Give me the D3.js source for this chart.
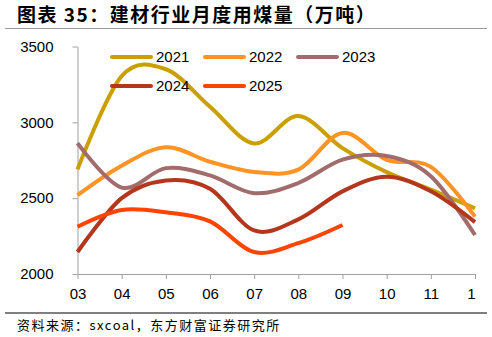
<!DOCTYPE html>
<html>
<head>
<meta charset="utf-8">
<script src="https://cdn.jsdelivr.net/npm/d3@7"></script>
<style>
  body { margin: 0; background: #fff; }
  svg { display: block; }
  .tick text { font-family: "Liberation Sans", Arial, sans-serif; font-size: 15px; fill: #000; }
  .axis path, .axis line { stroke: #a0a0a0; }
</style>
</head>
<body>
<svg id="chart" width="492" height="337"></svg>
<script>
// months on the x axis
const months = ['03', '04', '05', '06', '07', '08', '09', '10', '11', '12']
const yTicks = [2000, 2500, 3000, 3500]

// monthly coal use, 10k tonnes
const y2021 = [2690, 3305, 3350, 3103, 2861, 3041, 2830, 2672, 2556, 2433]
const y2022 = [2520, 2714, 2836, 2740, 2673, 2688, 2930, 2753, 2706, 2378]
const y2023 = [2863, 2570, 2698, 2650, 2533, 2600, 2754, 2778, 2645, 2257]
const y2024 = [2145, 2500, 2617, 2562, 2287, 2360, 2545, 2642, 2545, 2342]
const y2025 = [2312, 2422, 2407, 2347, 2145, 2203, 2323]

const seriesNames = ['2021', '2022', '2023', '2024', '2025']
const seriesValues = [y2021, y2022, y2023, y2024, y2025]
const colors = ['#c9a000', '#ff9424', '#a26c6c', '#b3361d', '#ff4400']

const svg = d3.select('#chart')

const x = d3.scalePoint().domain(months).range([77.5, 475])
const y = d3.scaleLinear().domain([2000, 3500]).range([274, 46.5])

// title
svg.append('text')
    .attr('x', 17).attr('y', 22)
    .style('font-family', '"Noto Sans CJK SC", sans-serif')
    .style('font-size', '19px')
    .style('font-weight', 'bold')
    .style('letter-spacing', '1.5px')
    .text('图表 35：建材行业月度用煤量（万吨）')

svg.append('line')
    .attr('x1', 5).attr('x2', 487).attr('y1', 28.5).attr('y2', 28.5)
    .attr('stroke', '#9a9a9a').attr('stroke-width', 1.2)

// axes
svg.append('g').attr('class', 'axis')
    .attr('transform', 'translate(77.5,0)')
    .call(d3.axisLeft(y).tickValues(yTicks).tickFormat(d3.format('d'))
        .tickSize(5).tickSizeOuter(0).tickPadding(19))

svg.append('clipPath').attr('id', 'xclip')
    .append('rect').attr('x', 0).attr('y', 0).attr('width', 476).attr('height', 337)

svg.append('g').attr('class', 'axis')
    .attr('transform', 'translate(0,274)')
    .attr('clip-path', 'url(#xclip)')
    .call(d3.axisBottom(x).tickSize(5).tickSizeOuter(0).tickPadding(9))

// lines, smoothed like the spreadsheet original
let line = d3.line()
    .x((d, i) => x(months[i]))
    .y(d => y(d))
    .curve(d3.curveCardinal.tension(0))

svg.append('g').selectAll('path').data(seriesValues).enter()
    .append('path')
    .attr('d', d => line(d))
    .attr('fill', 'none')
    .attr('stroke', (d, i) => colors[i])
    .attr('stroke-width', 4)
    .attr('stroke-linejoin', 'round')

// legend
let legend = svg.append('g').selectAll('g').data(seriesNames).enter()
    .append('g')
    .attr('transform', (d, i) => 'translate(' + (112 + (i % 3) * 93) + ',' + (57 + Math.floor(i / 3) * 29) + ')')

legend.append('line')
    .attr('x1', 0).attr('x2', 39)
    .attr('stroke', (d, i) => colors[i])
    .attr('stroke-width', 4)
    .attr('stroke-linecap', 'round')

legend.append('text')
    .attr('x', 44).attr('dy', '0.36em')
    .style('font-family', '"Liberation Sans", Arial, sans-serif')
    .style('font-size', '15px')
    .text(d => d)

// footer
svg.append('line')
    .attr('x1', 5).attr('x2', 487).attr('y1', 313).attr('y2', 313)
    .attr('stroke', '#000').attr('stroke-width', 1.2)

svg.append('text')
    .attr('x', 17).attr('y', 330)
    .style('font-family', '"Noto Sans CJK SC", sans-serif')
    .style('font-size', '13px')
    .style('letter-spacing', '1.5px')
    .text('资料来源：sxcoal，东方财富证券研究所')
</script>
</body>
</html>
